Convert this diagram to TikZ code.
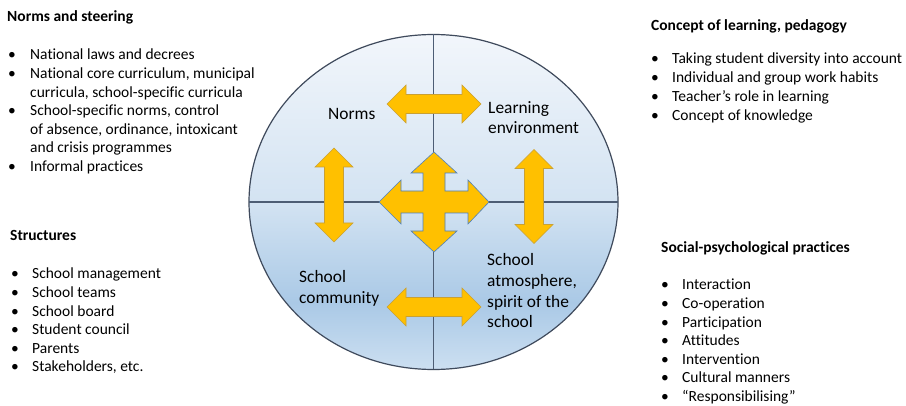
\documentclass[tikz,border=0pt]{standalone}
\usepackage{fontspec}
\setmainfont[Ligatures={NoCommon}]{Carlito}
\usetikzlibrary{calc}
\definecolor{arrowfill}{HTML}{FFC000}
\definecolor{arrowedge}{HTML}{C9A033}
\definecolor{crossedge}{HTML}{4F81BD}
\definecolor{ringedge}{HTML}{3F4A5C}
\definecolor{divline}{HTML}{4D5D74}
\definecolor{shadetop}{HTML}{F2F6FB}
\definecolor{shademid}{HTML}{D3E3F2}
\definecolor{shadelow}{HTML}{AAC9E6}
\definecolor{shadebot}{HTML}{CCDFF1}
\pgfdeclareverticalshading{ringfill}{100bp}{color(0bp)=(shadebot); color(25bp)=(shadebot); color(35bp)=(shadelow); color(50bp)=(shademid); color(75bp)=(shadetop); color(100bp)=(shadetop)}
\newcommand{\listfont}{\fontsize{15.5}{18.6}\selectfont}
\newcommand{\labfont}{\fontsize{17.4}{20.7}\selectfont}
\tikzset{
  headtitle/.style={anchor=base west, inner sep=0pt, font=\listfont\bfseries},
  itemlist/.style={anchor=base west, inner sep=0pt, font=\listfont},
  ringlabel/.style={anchor=base west, inner sep=0pt, font=\labfont},
  dblarrow/.style={fill=arrowfill, draw=arrowedge, line width=0.6pt, line join=miter},
  crossarrow/.style={fill=arrowfill, draw=crossedge, line width=0.6pt, line join=miter},
  divider/.style={draw=divline, line width=1.3pt},
}
\newcommand{\hdbl}{(-47,0) -- (-28,-19) -- (-28,-9.5) -- (28,-9.5) -- (28,-19) -- (47,0) -- (28,19) -- (28,9.5) -- (-28,9.5) -- (-28,19) -- cycle}
\begin{document}
\begin{tikzpicture}[x=1pt, y=-1pt]
\useasboundingbox (0,0) rectangle (906,406);
\fill[white] (0,0) rectangle (906,406);

% ring
\coordinate (ringc) at (433.5,202);
\path[shading=ringfill] (ringc) ellipse [x radius=184.5, y radius=167.5];
\draw[ringedge, line width=1.2pt] (ringc) ellipse [x radius=184.5, y radius=167.5];
\coordinate (ringtop) at (433.5,34.5);
\coordinate (ringbot) at (433.5,369.5);
\coordinate (ringleft) at (249,202);
\coordinate (ringright) at (618,202);
\draw[divider] (ringtop) -- (ringbot);
\draw[divider] (ringleft) -- (ringright);

% double arrows
\begin{scope}[shift={(434,104)}]
  \path[dblarrow] \hdbl;
\end{scope}
\begin{scope}[shift={(434,307)}]
  \path[dblarrow] \hdbl;
\end{scope}
\begin{scope}[shift={(334,195)}, rotate=90]
  \path[dblarrow] \hdbl;
\end{scope}
\begin{scope}[shift={(534,196.5)}, rotate=90]
  \path[dblarrow] \hdbl;
\end{scope}

% central four-way arrow
\begin{scope}[shift={(434,202)}]
  \path[crossarrow] (0,-50) -- (23,-29) -- (11,-29) -- (11,-11) -- (34,-11) -- (34,-22) -- (55,0) -- (34,22) -- (34,11) -- (11,11) -- (11,29) -- (23,29) -- (0,50) -- (-23,29) -- (-11,29) -- (-11,11) -- (-33,11) -- (-33,22) -- (-55,0) -- (-33,-22) -- (-33,-11) -- (-11,-11) -- (-11,-29) -- (-23,-29) -- cycle;
\end{scope}

% ring labels
\node[ringlabel] (norms) at (328,120) {Norms};
\node[ringlabel] (learn) at (488,113.3) {\begin{tabular}[t]{@{}l@{}}Learning\\environment\end{tabular}};
\node[ringlabel] (community) at (299,282.7) {\begin{tabular}[t]{@{}l@{}}School\\community\end{tabular}};
\node[ringlabel] (atmos) at (487,265.7) {\begin{tabular}[t]{@{}l@{}}School\\atmosphere,\\spirit of the\\school\end{tabular}};

% Norms and steering
\node[headtitle] (nstitle) at (7,22) {Norms and steering};
\node[itemlist] (nslist) at (8,60) {\begin{tabular}[t]{@{}p{22pt}@{}l@{}}
•& National laws and decrees\\
•& National core curriculum, municipal\\
 & curricula, school-specific curricula\\
•& School-specific norms, control\\
 & of absence, ordinance, intoxicant\\
 & and crisis programmes\\
•& Informal practices
\end{tabular}};

% Concept of learning
\node[headtitle] (cltitle) at (651,31) {Concept of learning, pedagogy};
\node[itemlist, font=\fontsize{15.5}{19}\selectfont] (cllist) at (651,63.3) {\begin{tabular}[t]{@{}p{21pt}@{}l@{}}
•& Taking student diversity into account\\
•& Individual and group work habits\\
•& Teacher’s role in learning\\
•& Concept of knowledge
\end{tabular}};

% Structures
\node[headtitle] (sttitle) at (10,241) {Structures};
\node[itemlist] (stlist) at (11,279) {\begin{tabular}[t]{@{}p{21pt}@{}l@{}}
•& School management\\
•& School teams\\
•& School board\\
•& Student council\\
•& Parents\\
•& Stakeholders, etc.
\end{tabular}};

% Social-psychological practices
\node[headtitle] (sptitle) at (661,252.3) {Social-psychological practices};
\node[itemlist] (splist) at (661,290) {\begin{tabular}[t]{@{}p{21pt}@{}l@{}}
•& Interaction\\
•& Co-operation\\
•& Participation\\
•& Attitudes\\
•& Intervention\\
•& Cultural manners\\
•& “Responsibilising”
\end{tabular}};
\end{tikzpicture}
\end{document}
